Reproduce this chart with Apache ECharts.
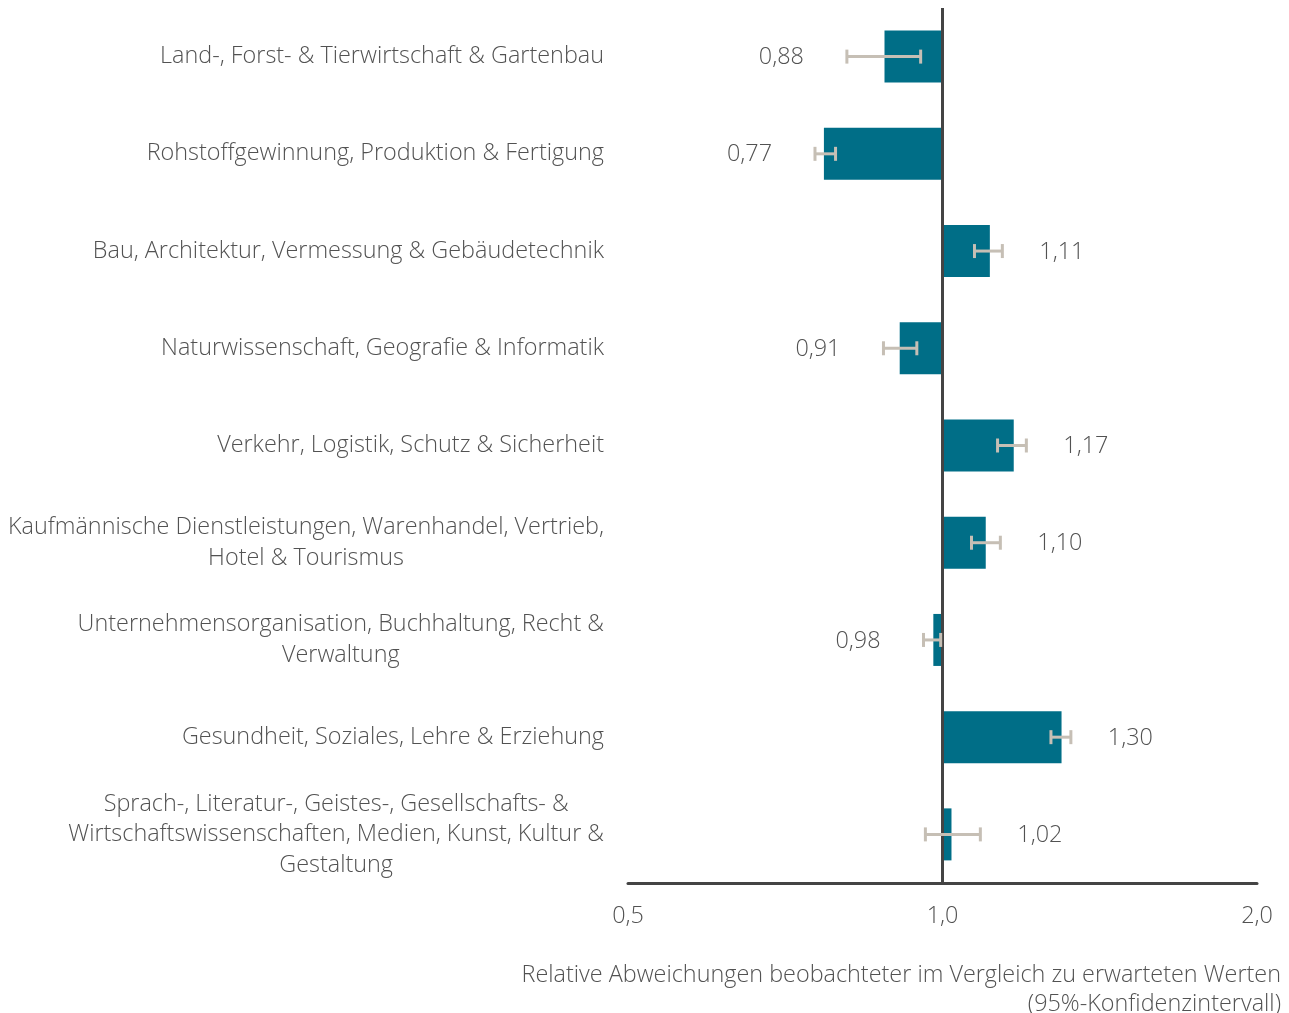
<!DOCTYPE html>
<html>
<head>
<meta charset="utf-8">
<script src="https://cdn.jsdelivr.net/npm/echarts@6/dist/echarts.min.js"></script>
<style>
  html, body { margin: 0; padding: 0; background: #ffffff; }
  #chart { width: 1289px; height: 1013px; }
</style>
</head>
<body>
<div id="chart"></div>
<script>
// Occupational fields (top to bottom)
const categories = [
  'Land-, Forst- & Tierwirtschaft & Gartenbau',
  'Rohstoffgewinnung, Produktion & Fertigung',
  'Bau, Architektur, Vermessung & Gebäudetechnik',
  'Naturwissenschaft, Geografie & Informatik',
  'Verkehr, Logistik, Schutz & Sicherheit',
  'Kaufmännische Dienstleistungen, Warenhandel, Vertrieb,\nHotel & Tourismus',
  'Unternehmensorganisation, Buchhaltung, Recht &\nVerwaltung',
  'Gesundheit, Soziales, Lehre & Erziehung',
  'Sprach-, Literatur-, Geistes-, Gesellschafts- &\nWirtschaftswissenschaften, Medien, Kunst, Kultur &\nGestaltung'
];

// Observed / expected ratio
const ratios = [0.88, 0.77, 1.11, 0.91, 1.17, 1.10, 0.98, 1.30, 1.02];

// 95% confidence interval bounds
const ciLow  = [0.810, 0.755, 1.073, 0.878, 1.129, 1.066, 0.959, 1.270, 0.963];
const ciHigh = [0.953, 0.790, 1.141, 0.945, 1.203, 1.136, 0.996, 1.327, 1.087];

// Axis tick values
const tickValues = [0.5, 1.0, 2.0];

const axisTitleLines = [
  'Relative Abweichungen beobachteter im Vergleich zu erwarteten Werten',
  '(95%-Konfidenzintervall)'
];

const FONT = '"Open Sans", "Noto Sans", sans-serif';
const WEIGHT = 300;
const SIZE = 23.4;
const TEXT_COLOR = '#525252';
const BAR_COLOR = '#006E87';
const CI_COLOR = '#C6BFB5';
const AXIS_COLOR = '#444444';

const fmt = v => v.toFixed(2).replace('.', ',');

const errorData = ratios.map((v, i) => [ciLow[i], ciHigh[i], i, v]);

const chart = echarts.init(document.getElementById('chart'), null, { renderer: 'canvas' });

chart.setOption({
  animation: false,
  backgroundColor: '#ffffff',
  grid: { left: 628, right: 32, top: 8, bottom: 130, containLabel: false },
  xAxis: {
    type: 'log',
    logBase: 2,
    min: tickValues[0],
    max: tickValues[tickValues.length - 1],
    axisLine: { show: true, lineStyle: { color: AXIS_COLOR, width: 3 } },
    axisTick: { show: false },
    splitLine: { show: false },
    axisLabel: {
      margin: 22,
      color: TEXT_COLOR,
      fontFamily: FONT,
      fontWeight: WEIGHT,
      fontSize: SIZE,
      formatter: v => Number(v).toFixed(1).replace('.', ',')
    }
  },
  yAxis: {
    type: 'category',
    inverse: true,
    data: categories,
    axisLine: { show: false },
    axisTick: { show: false },
    axisLabel: {
      margin: 24,
      align: 'right',
      formatter: s => s.split('\n').map(l => '{c|' + l + '}').join('\n'),
      rich: {
        c: {
          align: 'center',
          color: TEXT_COLOR,
          fontFamily: FONT,
          fontWeight: WEIGHT,
          fontSize: SIZE,
          lineHeight: 30.5
        }
      }
    }
  },
  series: [
    {
      type: 'bar',
      data: ratios,
      barWidth: 52,
      itemStyle: { color: BAR_COLOR },
      z: 2,
      markLine: {
        silent: true,
        symbol: 'none',
        label: { show: false },
        lineStyle: { color: AXIS_COLOR, width: 3, type: 'solid' },
        data: [{ xAxis: 1 }]
      }
    },
    {
      type: 'custom',
      data: errorData,
      z: 5,
      encode: { x: [0, 1], y: 2 },
      renderItem: (params, api) => {
        const lo = api.value(0), hi = api.value(1), idx = api.value(2), v = api.value(3);
        const p0 = api.coord([lo, idx]);
        const p1 = api.coord([hi, idx]);
        const y = p0[1];
        const cap = 7;
        const lineStyle = { stroke: CI_COLOR, lineWidth: 3 };
        const labelX = v < 1 ? p0[0] - 43 : p1[0] + 37;
        return {
          type: 'group',
          children: [
            { type: 'line', shape: { x1: p0[0], y1: y, x2: p1[0], y2: y }, style: lineStyle },
            { type: 'line', shape: { x1: p0[0], y1: y - cap, x2: p0[0], y2: y + cap }, style: lineStyle },
            { type: 'line', shape: { x1: p1[0], y1: y - cap, x2: p1[0], y2: y + cap }, style: lineStyle },
            {
              type: 'text',
              style: {
                x: labelX,
                y: y + 1,
                text: fmt(v),
                align: v < 1 ? 'right' : 'left',
                verticalAlign: 'middle',
                fill: TEXT_COLOR,
                fontFamily: FONT,
                fontWeight: WEIGHT,
                fontSize: SIZE
              }
            }
          ]
        };
      }
    }
  ],
  graphic: axisTitleLines.map((line, i) => ({
    type: 'text',
    style: {
      x: 1281,
      y: 975 + i * 29,
      text: line,
      align: 'right',
      verticalAlign: 'middle',
      fill: TEXT_COLOR,
      fontFamily: FONT,
      fontWeight: WEIGHT,
      fontSize: SIZE
    }
  }))
});
</script>
</body>
</html>
